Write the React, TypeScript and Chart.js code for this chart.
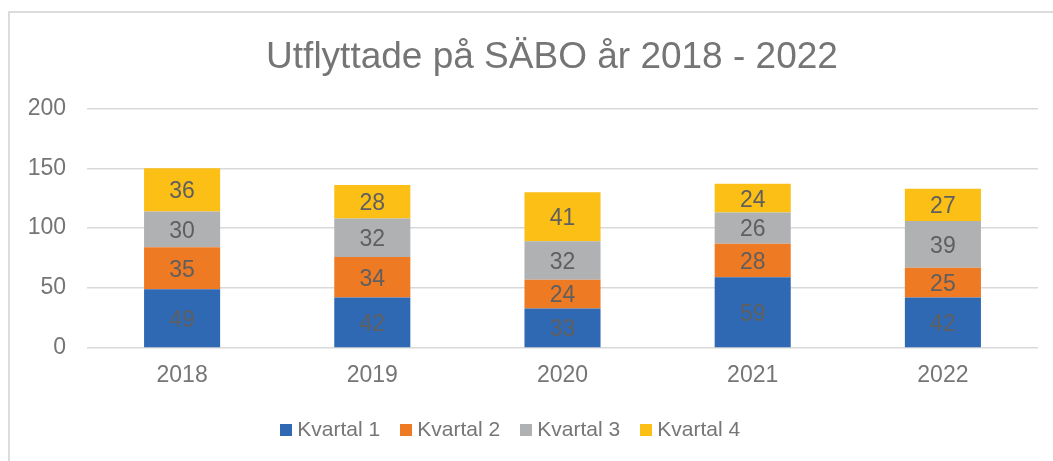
import React, { useEffect, useRef } from "react";
import { Chart, registerables } from "chart.js";

Chart.register(...registerables);

const TITLE = "Utflyttade på SÄBO år 2018 - 2022";
const YEARS = ["2018", "2019", "2020", "2021", "2022"];
const SERIES_NAMES = ["Kvartal 1", "Kvartal 2", "Kvartal 3", "Kvartal 4"];
const KVARTAL_1 = [49, 42, 33, 59, 42];
const KVARTAL_2 = [35, 34, 24, 28, 25];
const KVARTAL_3 = [30, 32, 32, 26, 39];
const KVARTAL_4 = [36, 28, 41, 24, 27];
const COLORS = ["#2F69B4", "#EE7A23", "#B0B1B3", "#FBBF16"];
const Y_MIN = 0;
const Y_MAX = 200;
const Y_STEP = 50;

const FONT = "'Liberation Sans', Arial, sans-serif";
const TEXT_COLOR = "#757575";
const LABEL_COLOR = "#5F5F5F";

function squareMarker(color: string): HTMLCanvasElement {
  const c = document.createElement("canvas");
  c.width = 12;
  c.height = 12;
  const g = c.getContext("2d");
  if (g) {
    g.fillStyle = color;
    g.fillRect(0, 0, 12, 12);
  }
  return c;
}

const dataLabelPlugin = {
  id: "segmentLabels",
  afterDatasetsDraw(chart: any) {
    const ctx = chart.ctx;
    ctx.save();
    ctx.font = `23px ${FONT}`;
    ctx.fillStyle = LABEL_COLOR;
    ctx.textAlign = "center";
    ctx.textBaseline = "middle";
    chart.data.datasets.forEach((ds: any, di: number) => {
      const meta = chart.getDatasetMeta(di);
      meta.data.forEach((bar: any, i: number) => {
        const v = ds.data[i];
        const yc = (bar.y + bar.base) / 2;
        ctx.fillText(String(v), bar.x, yc + 2);
      });
    });
    ctx.restore();
  },
};

const shiftPlugin = {
  id: "shiftBlocks",
  afterLayout(chart: any) {
    if (chart.titleBlock) {
      chart.titleBlock.left += 33;
      chart.titleBlock.right += 33;
    }
    if (chart.legend) {
      chart.legend.left -= 6;
      chart.legend.right -= 6;
    }
  },
};

export default function App() {
  const ref = useRef<HTMLCanvasElement | null>(null);

  useEffect(() => {
    if (!ref.current) return;
    const series = [KVARTAL_1, KVARTAL_2, KVARTAL_3, KVARTAL_4];
    const markers = COLORS.map(squareMarker);
    const chart = new Chart(ref.current, {
      type: "bar",
      data: {
        labels: YEARS,
        datasets: series.map((d, i) => ({
          label: SERIES_NAMES[i],
          data: d,
          backgroundColor: COLORS[i],
          borderWidth: 0,
          barPercentage: 0.8,
          categoryPercentage: 0.5,
        })),
      },
      options: {
        responsive: false,
        animation: false,
        devicePixelRatio: 1,
        layout: { padding: { left: 0, right: 15, top: 0, bottom: 10.5 } },
        plugins: {
          title: {
            display: true,
            text: TITLE,
            color: TEXT_COLOR,
            font: { family: FONT, size: 37, weight: "normal" },
            padding: { top: 36, bottom: 28 },
          },
          legend: {
            display: true,
            position: "bottom",
            labels: {
              color: TEXT_COLOR,
              font: { family: FONT, size: 21 },
              usePointStyle: true,
              pointStyleWidth: 1,
              boxHeight: 12,
              padding: 25.6,
              generateLabels(chart: any) {
                const items = Chart.defaults.plugins.legend.labels.generateLabels(chart);
                return items.map((it: any, i: number) => ({
                  ...it,
                  pointStyle: markers[i],
                  lineWidth: 0,
                }));
              },
            },
          },
          tooltip: { enabled: false },
        },
        scales: {
          x: {
            stacked: true,
            grid: { display: false, drawTicks: false },
            border: { display: false },
            ticks: {
              color: TEXT_COLOR,
              font: { family: FONT, size: 23 },
              padding: 14,
            },
            afterFit(scale: any) {
              scale.height = 46;
            },
          },
          y: {
            stacked: true,
            min: Y_MIN,
            max: Y_MAX,
            grid: { color: "#D9D9D9", lineWidth: 1.5, drawTicks: false },
            border: { display: false },
            ticks: {
              stepSize: Y_STEP,
              color: TEXT_COLOR,
              font: { family: FONT, size: 23 },
              padding: 21,
            },
            afterFit(scale: any) {
              scale.width = 87;
            },
          },
        },
      },
      plugins: [dataLabelPlugin, shiftPlugin],
    });
    return () => chart.destroy();
  }, []);

  return (
    <div
      style={{
        position: "fixed",
        left: 0,
        top: 0,
        width: 1053,
        height: 461,
        background: "#ffffff",
        overflow: "hidden",
      }}
    >
      <div
        style={{
          position: "absolute",
          left: 8,
          top: 11,
          width: 1100,
          height: 500,
          borderLeft: "2px solid #DCDCDC",
          borderTop: "2px solid #DCDCDC",
          boxSizing: "border-box",
        }}
      />
      <canvas
        ref={ref}
        width={1053}
        height={461}
        style={{ position: "absolute", left: 0, top: 0, width: 1053, height: 461 }}
      />
    </div>
  );
}
